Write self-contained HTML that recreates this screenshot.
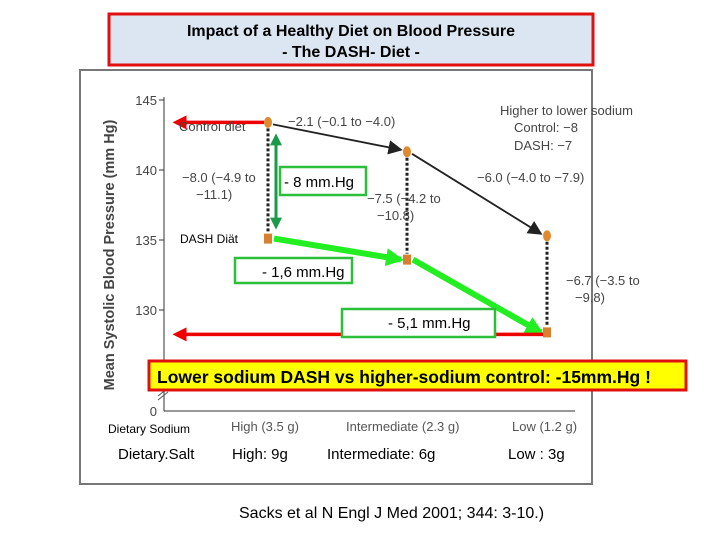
<!DOCTYPE html>
<html><head><meta charset="utf-8"><style>
body{margin:0;width:720px;height:540px;background:#fff;overflow:hidden;font-family:"Liberation Sans",sans-serif}
</style></head><body>
<svg width="720" height="540" xmlns="http://www.w3.org/2000/svg">
<defs>
<marker id="ab" markerWidth="8" markerHeight="8" refX="7" refY="4" orient="auto"><path d="M0,0 L8,4 L0,8z" fill="#222"/></marker>
<marker id="ar" markerWidth="4" markerHeight="4" refX="3" refY="2" orient="auto"><path d="M0,0 L4,2 L0,4z" fill="#e00"/></marker>
<marker id="ag" markerWidth="3" markerHeight="3" refX="2.5" refY="1.5" orient="auto"><path d="M0,0 L3,1.5 L0,3z" fill="#22ee22"/></marker>
<marker id="agd" markerWidth="4" markerHeight="4" refX="3" refY="2" orient="auto-start-reverse"><path d="M0,0 L4,2 L0,4z" fill="#1a9a4a"/></marker>
</defs>
<rect x="80" y="70" width="512" height="414" fill="#fff" stroke="#777" stroke-width="2"/>
<rect x="109" y="14" width="484" height="51" fill="#dce6f2" stroke="#e01010" stroke-width="3"/>
<text x="351" y="36" text-anchor="middle" font-size="16" font-weight="bold">Impact of a Healthy Diet on Blood Pressure</text>
<text x="351" y="57" text-anchor="middle" font-size="16" font-weight="bold">- The DASH- Diet -</text>
<g id="chart"></g>
</svg>
<script>
const categories=["High (3.5 g)","Intermediate (2.3 g)","Low (1.2 g)"];
const salt=["High: 9g","Intermediate: 6g","Low : 3g"];
const controlSBP=[143.4,141.3,135.3];
const dashSBP=[135.1,133.6,128.4];
const yTicks=[145,140,135,130];
const NS="http://www.w3.org/2000/svg";
const g=document.getElementById("chart");
const xPos=[268,407,547];
function x(i){return xPos[i];}
function y(v){return 100+(145-v)*14;}
function el(t,a,txt){const e=document.createElementNS(NS,t);for(const k in a)e.setAttribute(k,a[k]);if(txt!=null)e.textContent=txt;g.appendChild(e);return e;}
let e;
e=el("line",{x1:164,y1:97,x2:164,y2:411,stroke:"#333"});


e=el("line",{x1:164,y1:411,x2:575,y2:411,stroke:"#333"});


yTicks.forEach(t=>{el("line",{x1:159,y1:y(t),x2:164,y2:y(t),stroke:"#333"});
e=el("text",{x:157,y:y(t)+5,"text-anchor":"end","font-size":13,fill:"#444"},t);

});
el("text",{x:157,y:416,"text-anchor":"end","font-size":13,fill:"#444"},"0");
el("path",{d:"M158,400 L168,392 M158,396 L168,388",stroke:"#555",fill:"none"});
e=el("text",{transform:"translate(114,255) rotate(-90)","text-anchor":"middle","font-size":14.5,"font-weight":"bold",fill:"#444"},"Mean Systolic Blood Pressure (mm Hg)");


for(let i=0;i<3;i++){e=el("line",{x1:x(i),y1:y(controlSBP[i])+6,x2:x(i),y2:y(dashSBP[i])-6,stroke:"#222","stroke-width":3,"stroke-dasharray":"3,2"});

}
for(let i=0;i<2;i++){e=el("line",{x1:x(i)+5,y1:y(controlSBP[i])+2,x2:x(i+1)-6,y2:y(controlSBP[i+1])-2,stroke:"#222","stroke-width":1.8,"marker-end":"url(#ab)"});

}
for(let i=0;i<2;i++){e=el("line",{x1:x(i)+6,y1:y(dashSBP[i]),x2:x(i+1)-6,y2:y(dashSBP[i+1]),stroke:"#22ee22","stroke-width":6,"marker-end":"url(#ag)"});

}
e=el("line",{x1:x(0)-4,y1:y(controlSBP[0]),x2:176,y2:y(controlSBP[0]),stroke:"#e00","stroke-width":3.5,"marker-end":"url(#ar)"});


e=el("line",{x1:x(2),y1:y(dashSBP[2])+2,x2:176,y2:y(dashSBP[2])+2,stroke:"#e00","stroke-width":3.5,"marker-end":"url(#ar)"});


e=el("line",{x1:276,y1:y(controlSBP[0])+14,x2:276,y2:y(dashSBP[0])-12,stroke:"#1a9a4a","stroke-width":3,"marker-end":"url(#agd)","marker-start":"url(#agd)"});


for(let i=0;i<3;i++){e=el("ellipse",{cx:x(i),cy:y(controlSBP[i]),rx:4,ry:5.5,fill:"#e08a30"});


e=el("rect",{x:x(i)-4,y:y(dashSBP[i])-5,width:8,height:10,fill:"#d98030"});

}
const T=(tx,ty,s,o)=>{const a=Object.assign({x:tx,y:ty,"font-size":13,fill:"#444"},o||{});return el("text",a,s);};
T(179,131,"Control diet");
T(288,126,"−2.1 (−0.1 to −4.0)");
T(500,115,"Higher to lower sodium");T(514,132,"Control: −8");T(514,150,"DASH: −7");
T(182,182,"−8.0 (−4.9 to");T(196,199,"−11.1)");
T(367,203,"−7.5 (−4.2 to");T(377,220,"−10.8)");
T(477,182,"−6.0 (−4.0 to −7.9)");
T(566,285,"−6.7 (−3.5 to");T(575,302,"−9.8)");
e=T(180,243,"DASH Diät",{fill:"#000","font-size":12});


[[280,167,86,28,"- 8 mm.Hg",284,187],[235,258,117,25,"- 1,6 mm.Hg",262,277],[342,309,153,28,"- 5,1 mm.Hg",388,328]].forEach((b,k)=>{
e=el("rect",{x:b[0],y:b[1],width:b[2],height:b[3],fill:"#fff",stroke:"#2bbf3a","stroke-width":2.5});


T(b[5],b[6],b[4],{fill:"#000","font-size":15});});
e=el("rect",{x:149,y:361,width:537,height:29,fill:"#ffff00",stroke:"#e01010","stroke-width":3});


T(157,383,"Lower sodium DASH vs higher-sodium control: -15mm.Hg !",{fill:"#000","font-size":17.5,"font-weight":"bold"});
T(108,433,"Dietary Sodium",{fill:"#000","font-size":12});
T(118,459,"Dietary.Salt",{fill:"#000","font-size":15});
const sx=[231,346,512];
categories.forEach((c,i)=>{e=T(sx[i],431,c,{"font-size":13,fill:"#555"});


e=T([232,327,508][i],459,salt[i],{fill:"#000","font-size":15});

});
e=T(239,518,"Sacks et al N Engl J Med 2001; 344: 3-10.)",{fill:"#000","font-size":16});


</script>
</body></html>
